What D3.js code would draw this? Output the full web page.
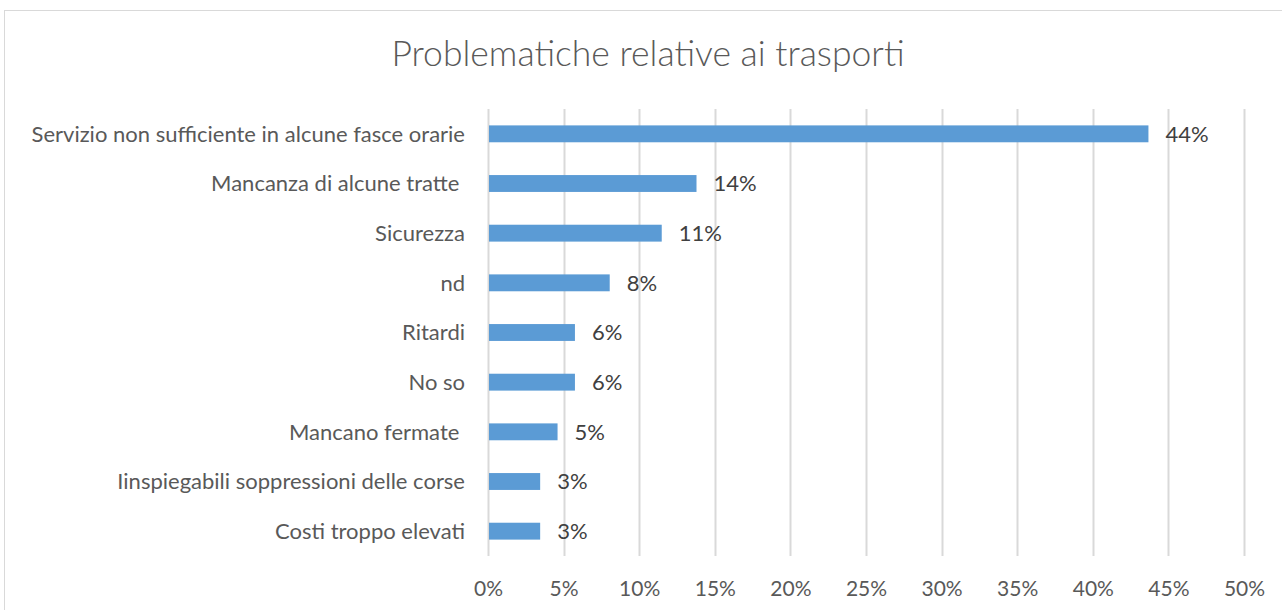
<!DOCTYPE html>
<html>
<head>
  <meta charset="utf-8">
  <script src="https://cdn.jsdelivr.net/npm/d3@7"></script>
  <style>
body {
  margin: 0;
  background: #fff;
}
.cat-label, .tick text, .val-label {
  font-family: Lato, "Open Sans", sans-serif;
}
  </style>
</head>
<body>
  <svg width="1282" height="610"></svg>
  <script>

// risposte (quota sul totale)
const categories = [
  "Servizio non sufficiente in alcune fasce orarie",
  "Mancanza di alcune tratte ",
  "Sicurezza",
  "nd",
  "Ritardi",
  "No so",
  "Mancano fermate ",
  "Iinspiegabili soppressioni delle corse",
  "Costi troppo elevati"
];
const values = [0.4368, 0.1379, 0.1149, 0.0805, 0.0575, 0.0575, 0.046, 0.0345, 0.0345];
const xTicks = [0, 0.05, 0.1, 0.15, 0.2, 0.25, 0.3, 0.35, 0.4, 0.45, 0.5];
const title = "Problematiche relative ai trasporti";

var svg = d3.select("svg");

var pLeft = 488, pRight = 1244, pTop = 109, pBottom = 556;

// cornice del grafico
svg.append("rect")
   .attr("x", 4.5).attr("y", 10.5)
   .attr("width", 1300).attr("height", 640)
   .attr("fill", "#fff")
   .attr("stroke", "#d9d9d9");

var x = d3.scaleLinear().domain([0, 0.5]).range([pLeft, pRight]);
var y = d3.scaleBand().domain(categories).range([pTop, pBottom]).paddingInner(0.66).paddingOuter(0.33);

// griglia
svg.append("g")
   .selectAll("line")
   .data(xTicks)
   .enter().append("line")
   .attr("x1", d => Math.round(x(d)) + 0.5)
   .attr("x2", d => Math.round(x(d)) + 0.5)
   .attr("y1", pTop)
   .attr("y2", pBottom)
   .attr("stroke", "#d9d9d9")
   .attr("stroke-width", 2);

var xAxis = svg.append("g")
   .attr("transform", `translate(0,${pBottom})`)
   .call(d3.axisBottom(x).tickValues(xTicks).tickFormat(d3.format(".0%")).tickSize(0).tickPadding(25));
xAxis.select(".domain").remove();
xAxis.selectAll("text")
     .attr("fill", "#595959")
     .style("font-size", "21px");

// barre
svg.append("g")
   .selectAll("rect")
   .data(values)
   .enter().append("rect")
   .attr("x", x(0) + 1)
   .attr("y", (d, i) => y(categories[i]))
   .attr("width", d => x(d) - x(0) - 1)
   .attr("height", y.bandwidth())
   .attr("fill", "#5b9bd5");

// etichette valori
svg.append("g")
   .selectAll("text")
   .data(values)
   .enter().append("text")
   .attr("class", "val-label")
   .attr("x", d => x(d) + 17)
   .attr("y", (d, i) => y(categories[i]) + y.bandwidth() / 2)
   .attr("dy", "0.36em")
   .attr("fill", "#404040")
   .style("font-size", "22px")
   .text(d => Math.round(d * 100) + "%");

// categorie
svg.append("g")
   .selectAll("text")
   .data(categories)
   .enter().append("text")
   .attr("class", "cat-label")
   .attr("x", 465)
   .attr("y", d => y(d) + y.bandwidth() / 2)
   .attr("dy", "0.36em")
   .attr("text-anchor", "end")
   .attr("fill", "#595959")
   .style("font-size", "22px")
   .style("white-space", "pre")
   .text(d => d);

svg.append("text")
   .attr("x", 648)
   .attr("y", 66)
   .attr("text-anchor", "middle")
   .attr("fill", "#595959")
   .style("font-family", "Lato, 'Open Sans', sans-serif")
   .style("font-weight", 300)
   .style("font-size", "35.5px")
   .text(title);

</script>
</body>
</html>
